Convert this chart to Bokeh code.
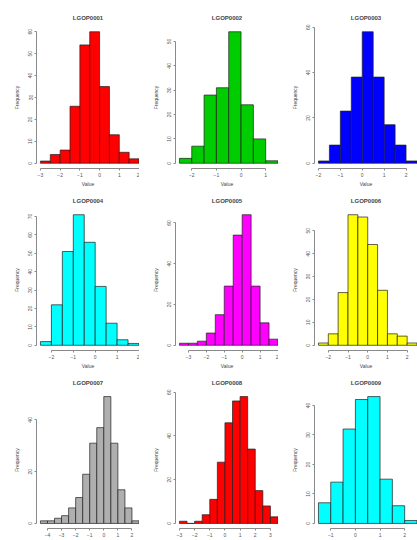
from bokeh.plotting import figure
from bokeh.layouts import column, row
from bokeh.models import FixedTicker, Range1d
from bokeh.embed import file_html
from bokeh.resources import INLINE

# ---- data ----
titles = ["LGOP0001", "LGOP0002", "LGOP0003",
          "LGOP0004", "LGOP0005", "LGOP0006",
          "LGOP0007", "LGOP0008", "LGOP0009"]
colors = ["#FF0000", "#00CD00", "#0000FF",
          "#00FFFF", "#FF00FF", "#FFFF00",
          "#AFAFAF", "#FF0000", "#00FFFF"]
bin_width = 0.5
first_edges = [-3.0, -2.5, -2.0, -2.5, -3.5, -2.5, -4.5, -3.0, -1.5]

counts_1 = [1, 4, 6, 26, 54, 60, 35, 13, 5, 2]
counts_2 = [2, 7, 28, 31, 54, 24, 10, 1]
counts_3 = [1, 8, 23, 38, 58, 38, 17, 8, 1]
counts_4 = [2, 22, 51, 71, 56, 32, 12, 3, 1]
counts_5 = [1, 1, 2, 6, 15, 29, 54, 64, 29, 11, 3]
counts_6 = [1, 5, 23, 57, 56, 44, 24, 5, 4, 1]
counts_7 = [1, 1, 2, 3, 6, 10, 19, 31, 37, 49, 31, 13, 6, 1]
counts_8 = [1, 0, 1, 4, 11, 28, 46, 56, 58, 34, 15, 8, 3]
counts_9 = [7, 14, 32, 42, 43, 15, 6, 1]
all_counts = [counts_1, counts_2, counts_3, counts_4, counts_5,
              counts_6, counts_7, counts_8, counts_9]

x_ticks_1 = [-3, -2, -1, 0, 1, 2]
x_ticks_2 = [-2, -1, 0, 1]
x_ticks_3 = [-2, -1, 0, 1, 2]
x_ticks_4 = [-2, -1, 0, 1, 2]
x_ticks_5 = [-3, -2, -1, 0, 1, 2]
x_ticks_6 = [-2, -1, 0, 1, 2]
x_ticks_7 = [-4, -3, -2, -1, 0, 1, 2]
x_ticks_8 = [-3, -2, -1, 0, 1, 2, 3]
x_ticks_9 = [-1, 0, 1, 2]
all_x_ticks = [x_ticks_1, x_ticks_2, x_ticks_3, x_ticks_4, x_ticks_5,
               x_ticks_6, x_ticks_7, x_ticks_8, x_ticks_9]

y_steps = [10, 10, 20, 10, 20, 10, 20, 20, 10]

x_label = "Value"
y_label = "Frequency"

# ---- layout per row ----
row_heights = [190, 182, 168]
row_top = [26, 19, 19]
row_bottom = [22, 22, 12]
FONT = "Liberation Sans"
AX = "#8a8a8a"


def make_panel(i):
    r = i // 3
    counts = all_counts[i]
    n = len(counts)
    left = [first_edges[i] + k * bin_width for k in range(n)]
    right = [l + bin_width for l in left]
    x0, x1 = left[0], right[-1]
    span = x1 - x0
    ymax = max(counts)
    ytop = 1.04 * ymax
    yt = list(range(0, int(ytop) + 1, y_steps[i]))
    xt = all_x_ticks[i]

    p = figure(width=139, height=row_heights[r],
               x_range=Range1d(x0 - 0.04 * span, x1 + 0.005 * span),
               y_range=Range1d(-0.04 * ymax, ytop),
               output_backend="svg", toolbar_location=None,
               min_border_left=36, min_border_right=0,
               min_border_top=row_top[r], min_border_bottom=row_bottom[r],
               title=titles[i])
    p.quad(left=left, right=right, bottom=0, top=counts,
           fill_color=colors[i], line_color="#202020", line_width=0.7)

    p.outline_line_color = None
    p.xgrid.visible = False
    p.ygrid.visible = False
    p.background_fill_color = "white"
    p.border_fill_color = "white"

    p.title.text_font = FONT
    p.title.text_font_size = "6px"
    p.title.text_font_style = "bold"
    p.title.align = "center"
    p.title.standoff = 11

    for ax in (p.xaxis[0], p.yaxis[0]):
        ax.axis_line_color = AX
        ax.major_tick_line_color = AX
        ax.minor_tick_line_color = None
        ax.major_tick_in = 0
        ax.major_tick_out = 2
        ax.major_label_standoff = 2
        ax.major_label_text_font = FONT
        ax.major_label_text_font_size = "5px"
        ax.major_label_text_color = "#555555"
        ax.axis_label_text_font = FONT
        ax.axis_label_text_font_size = "5px"
        ax.axis_label_text_font_style = "normal"
        ax.axis_label_text_color = "#444444"

    p.xaxis.ticker = FixedTicker(ticks=xt)
    p.xaxis.bounds = (xt[0], xt[-1])
    p.yaxis.ticker = FixedTicker(ticks=yt)
    p.yaxis.bounds = (yt[0], yt[-1])
    p.yaxis.major_label_orientation = "vertical"
    p.yaxis.axis_label = y_label
    p.yaxis.axis_label_standoff = 6
    if r < 2:
        p.xaxis.axis_label = x_label
        p.xaxis.axis_label_standoff = 1
    return p


panels = [make_panel(i) for i in range(9)]
layout = column(row(*panels[0:3]), row(*panels[3:6]), row(*panels[6:9]))

open("out.html", "w").write(file_html(layout, INLINE))
